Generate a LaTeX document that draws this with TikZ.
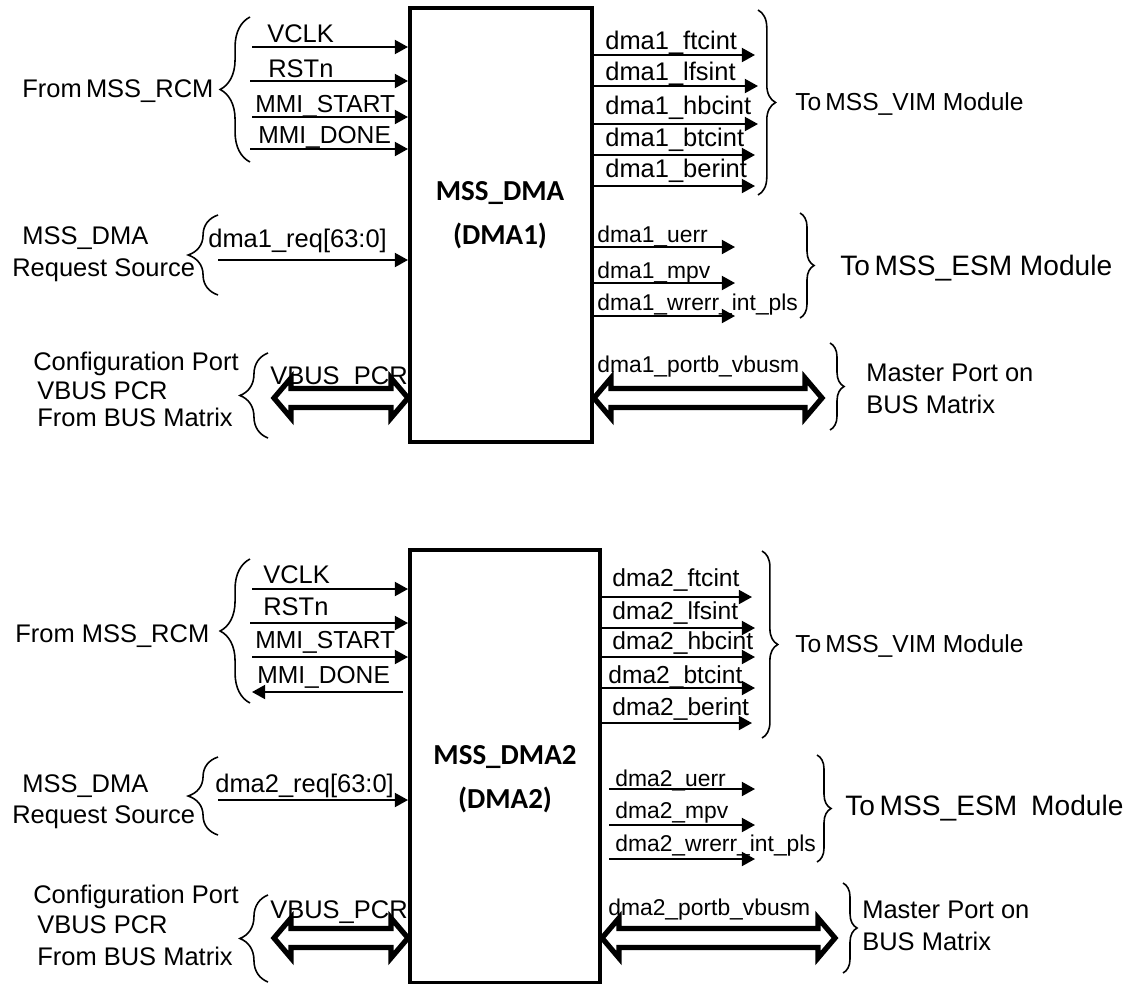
\documentclass[tikz,border=0pt]{standalone}
\usepackage{fontspec}
\setmainfont{Liberation Sans}
\newfontfamily\boxfont{Carlito}
\usetikzlibrary{arrows.meta,decorations.pathreplacing}

\tikzset{
  lbl/.style={anchor=base west, inner sep=0pt, font=\fontsize{14.5}{17}\selectfont},
  small/.style={font=\fontsize{13}{15}\selectfont},
  big/.style={font=\fontsize{16}{18}\selectfont},
  sig/.style={line width=1.1pt, -{Triangle[length=7.5pt,width=8pt]}},
  % hollow double-headed bus arrow
  bus/.style={line width=3pt, line join=miter, to path={
      -- ([shift={(17,-20)}]\tikztostart) -- ([shift={(17,-9.5)}]\tikztostart)
      -- ([shift={(-17,-9.5)}]\tikztotarget) -- ([shift={(-17,-20)}]\tikztotarget)
      -- (\tikztotarget)
      -- ([shift={(-17,20)}]\tikztotarget) -- ([shift={(-17,9.5)}]\tikztotarget)
      -- ([shift={(17,9.5)}]\tikztostart) -- ([shift={(17,20)}]\tikztostart) -- cycle}},
  dmabox/.style={draw, line width=2.3pt},
  boxlbl/.style={align=center, font=\boxfont\bfseries\fontsize{16.5}{25}\selectfont},
  grp/.style={decorate, line width=0.9pt, decoration={brace, amplitude=#1}},
}

\begin{document}
\begin{tikzpicture}[x=0.02cm, y=-0.02cm]
    \useasboundingbox (0,0) rectangle (1143,984);

    % ---------------- DMA1 ----------------
    \node[dmabox, minimum width=3.64cm, minimum height=8.68cm] (dma1) at (501,225) {};
    \node[boxlbl] (dma1t) at (500,215) {MSS\_DMA\\(DMA1)};

    % inputs from RCM
    \coordinate (vclk1) at (252,47);
    \coordinate (rst1) at (250,81);
    \coordinate (start1) at (252,117);
    \coordinate (done1) at (250,149);
    \draw[sig] (vclk1) -- (vclk1 -| dma1.west);
    \draw[sig] (rst1) -- (rst1 -| dma1.west);
    \draw[sig] (start1) -- (start1 -| dma1.west);
    \draw[sig] (done1) -- (done1 -| dma1.west);
    \node[lbl] (vclk1t) at (267,42) {VCLK};
    \node[lbl] (rst1t) at (268,77) {RSTn};
    \node[lbl, font=\fontsize{14}{16}\selectfont] (start1t) at (255,112) {MMI\_START};
    \node[lbl, font=\fontsize{14}{16}\selectfont] (done1t) at (258,143) {MMI\_DONE};
    \coordinate (rcm1a) at (250,17);
    \coordinate (rcm1b) at (250,162);
    \draw[grp=17pt] (rcm1b) -- (rcm1a);
    \node[lbl] (rcm1t) at (22,97) {From\,MSS\_RCM};

    % request source
    \coordinate (req1) at (218,260);
    \draw[sig] (req1) -- (req1 -| dma1.west);
    \node[lbl] (req1t) at (208,247) {dma1\_req[63:0]};
    \coordinate (src1a) at (218,215);
    \coordinate (src1b) at (218,295);
    \draw[grp=17pt] (src1b) -- (src1a);
    \node[lbl] (src1t) at (22,244) {MSS\_DMA};
    \node[lbl] (src1u) at (12,276) {Request Source};

    % configuration port
    \coordinate (cfg1) at (274,398);
    \coordinate (cfg1e) at (cfg1 -| dma1.west);
    \draw[bus] (cfg1) to (cfg1e);
    \node[lbl] (cfg1t) at (270,384) {VBUS\_PCR};
    \coordinate (cfg1a) at (268,353);
    \coordinate (cfg1b) at (268,438);
    \draw[grp=16pt] (cfg1b) -- (cfg1a);
    \node[lbl] (cfgp1) at (33,370) {Configuration Port};
    \node[lbl] (cfgv1) at (37,399) {VBUS PCR};
    \node[lbl] (cfgb1) at (37,426) {From BUS Matrix};

    % outputs to VIM
    \coordinate (ftc1) at (755,55);
    \coordinate (lfs1) at (758,86);
    \coordinate (hbc1) at (758,124);
    \coordinate (btc1) at (755,155);
    \coordinate (ber1) at (755,186);
    \draw[sig] (dma1.east |- ftc1) -- (ftc1);
    \draw[sig] (dma1.east |- lfs1) -- (lfs1);
    \draw[sig] (dma1.east |- hbc1) -- (hbc1);
    \draw[sig] (dma1.east |- btc1) -- (btc1);
    \draw[sig] (dma1.east |- ber1) -- (ber1);
    \node[lbl] (ftc1t) at (605,49) {dma1\_ftcint};
    \node[lbl] (lfs1t) at (605,80) {dma1\_lfsint};
    \node[lbl] (hbc1t) at (605,114) {dma1\_hbcint};
    \node[lbl] (btc1t) at (605,146) {dma1\_btcint};
    \node[lbl] (ber1t) at (605,177) {dma1\_berint};
    \coordinate (vim1a) at (758,10);
    \coordinate (vim1b) at (758,195);
    \draw[grp=10pt] (vim1a) -- (vim1b);
    \node[lbl, font=\fontsize{14}{16}\selectfont] (vim1t) at (795,110) {To\,MSS\_VIM Module};

    % outputs to ESM
    \coordinate (uerr1) at (735,247);
    \coordinate (mpv1) at (735,283);
    \coordinate (wrerr1) at (735,316);
    \draw[sig] (dma1.east |- uerr1) -- (uerr1);
    \draw[sig] (dma1.east |- mpv1) -- (mpv1);
    \draw[sig] (dma1.east |- wrerr1) -- (wrerr1);
    \node[lbl, small] (uerr1t) at (597,242) {dma1\_uerr};
    \node[lbl, small] (mpv1t) at (597,278) {dma1\_mpv};
    \node[lbl, small] (wrerr1t) at (597,310) {dma1\_wrerr\_int\_pls};
    \coordinate (esm1a) at (800,213);
    \coordinate (esm1b) at (800,318);
    \draw[grp=8pt] (esm1a) -- (esm1b);
    \node[lbl, big] (esm1t) at (840,275) {To\,MSS\_ESM Module};

    % master port
    \coordinate (mst1) at (822,398);
    \coordinate (mst1s) at (dma1.east |- mst1);
    \draw[bus] (mst1s) to (mst1);
    \node[lbl, small] (mst1t) at (597,372) {dma1\_portb\_vbusm};
    \coordinate (mstb1a) at (830,343);
    \coordinate (mstb1b) at (830,430);
    \draw[grp=8pt] (mstb1a) -- (mstb1b);
    \node[lbl] (mstp1) at (866,381) {Master Port on};
    \node[lbl] (mstm1) at (866,413) {BUS Matrix};

    % ---------------- DMA2 ----------------
    \node[dmabox, minimum width=3.8cm, minimum height=8.66cm] (dma2) at (505,766.5) {};
    \node[boxlbl] (dma2t) at (505,779) {MSS\_DMA2\\(DMA2)};

    % inputs from RCM
    \coordinate (vclk2) at (252,589);
    \coordinate (rst2) at (250,623);
    \coordinate (start2) at (252,657);
    \coordinate (done2) at (252,692);
    \draw[sig] (vclk2) -- (vclk2 -| dma2.west);
    \draw[sig] (rst2) -- (rst2 -| dma2.west);
    \draw[sig] (start2) -- (start2 -| dma2.west);
    \draw[sig] ([xshift=-0.1cm]dma2.west |- done2) -- (done2);
    \node[lbl] (vclk2t) at (263,583) {VCLK};
    \node[lbl] (rst2t) at (263,615) {RSTn};
    \node[lbl, font=\fontsize{14}{16}\selectfont] (start2t) at (255,648) {MMI\_START};
    \node[lbl, font=\fontsize{14}{16}\selectfont] (done2t) at (257,683) {MMI\_DONE};
    \coordinate (rcm2a) at (250,559);
    \coordinate (rcm2b) at (250,703);
    \draw[grp=17pt] (rcm2b) -- (rcm2a);
    \node[lbl] (rcm2t) at (15,642) {From MSS\_RCM};

    % request source
    \coordinate (req2) at (218,800);
    \draw[sig] (req2) -- (req2 -| dma2.west);
    \node[lbl] (req2t) at (215,792) {dma2\_req[63:0]};
    \coordinate (src2a) at (218,757);
    \coordinate (src2b) at (218,835);
    \draw[grp=17pt] (src2b) -- (src2a);
    \node[lbl] (src2t) at (22,792) {MSS\_DMA};
    \node[lbl] (src2u) at (12,823) {Request Source};

    % configuration port
    \coordinate (cfg2) at (274,938);
    \coordinate (cfg2e) at (cfg2 -| dma2.west);
    \draw[bus] (cfg2) to (cfg2e);
    \node[lbl] (cfg2t) at (270,918) {VBUS\_PCR};
    \coordinate (cfg2a) at (268,895);
    \coordinate (cfg2b) at (268,982);
    \draw[grp=16pt] (cfg2b) -- (cfg2a);
    \node[lbl] (cfgp2) at (33,903) {Configuration Port};
    \node[lbl] (cfgv2) at (37,933) {VBUS PCR};
    \node[lbl] (cfgb2) at (37,965) {From BUS Matrix};

    % outputs to VIM
    \coordinate (ftc2) at (752,597);
    \coordinate (lfs2) at (755,628);
    \coordinate (hbc2) at (755,657);
    \coordinate (btc2) at (755,688);
    \coordinate (ber2) at (752,723);
    \draw[sig] (dma2.east |- ftc2) -- (ftc2);
    \draw[sig] (dma2.east |- lfs2) -- (lfs2);
    \draw[sig] (dma2.east |- hbc2) -- (hbc2);
    \draw[sig] (dma2.east |- btc2) -- (btc2);
    \draw[sig] (dma2.east |- ber2) -- (ber2);
    \node[lbl, font=\fontsize{14}{16}\selectfont] (ftc2t) at (612,586) {dma2\_ftcint};
    \node[lbl, font=\fontsize{14}{16}\selectfont] (lfs2t) at (612,619) {dma2\_lfsint};
    \node[lbl, font=\fontsize{14}{16}\selectfont] (hbc2t) at (612,649) {dma2\_hbcint};
    \node[lbl, font=\fontsize{14}{16}\selectfont] (btc2t) at (608,683) {dma2\_btcint};
    \node[lbl, font=\fontsize{14}{16}\selectfont] (ber2t) at (612,715) {dma2\_berint};
    \coordinate (vim2a) at (762,551);
    \coordinate (vim2b) at (762,738);
    \draw[grp=9pt] (vim2a) -- (vim2b);
    \node[lbl, font=\fontsize{14}{16}\selectfont] (vim2t) at (795,652) {To\,MSS\_VIM Module};

    % outputs to ESM
    \coordinate (uerr2) at (755,789);
    \coordinate (mpv2) at (755,825);
    \coordinate (wrerr2) at (755,859);
    \draw[sig] ([xshift=0.14cm]dma2.east |- uerr2) -- (uerr2);
    \draw[sig] ([xshift=0.14cm]dma2.east |- mpv2) -- (mpv2);
    \draw[sig] ([xshift=0.14cm]dma2.east |- wrerr2) -- (wrerr2);
    \node[lbl, small] (uerr2t) at (615,786) {dma2\_uerr};
    \node[lbl, small] (mpv2t) at (615,818) {dma2\_mpv};
    \node[lbl, small] (wrerr2t) at (615,851) {dma2\_wrerr\_int\_pls};
    \coordinate (esm2a) at (817,755);
    \coordinate (esm2b) at (817,862);
    \draw[grp=8pt] (esm2a) -- (esm2b);
    \node[lbl, big] (esm2t) at (845,815) {To\,MSS\_ESM\hspace{0.5em}Module};

    % master port
    \coordinate (mst2) at (835,938);
    \coordinate (mst2s) at (dma2.east |- mst2);
    \draw[bus] (mst2s) to (mst2);
    \node[lbl, small] (mst2t) at (608,915) {dma2\_portb\_vbusm};
    \coordinate (mstb2a) at (843,883);
    \coordinate (mstb2b) at (843,973);
    \draw[grp=8pt] (mstb2a) -- (mstb2b);
    \node[lbl] (mstp2) at (862,918) {Master Port on};
    \node[lbl] (mstm2) at (862,950) {BUS Matrix};
\end{tikzpicture}
\end{document}
